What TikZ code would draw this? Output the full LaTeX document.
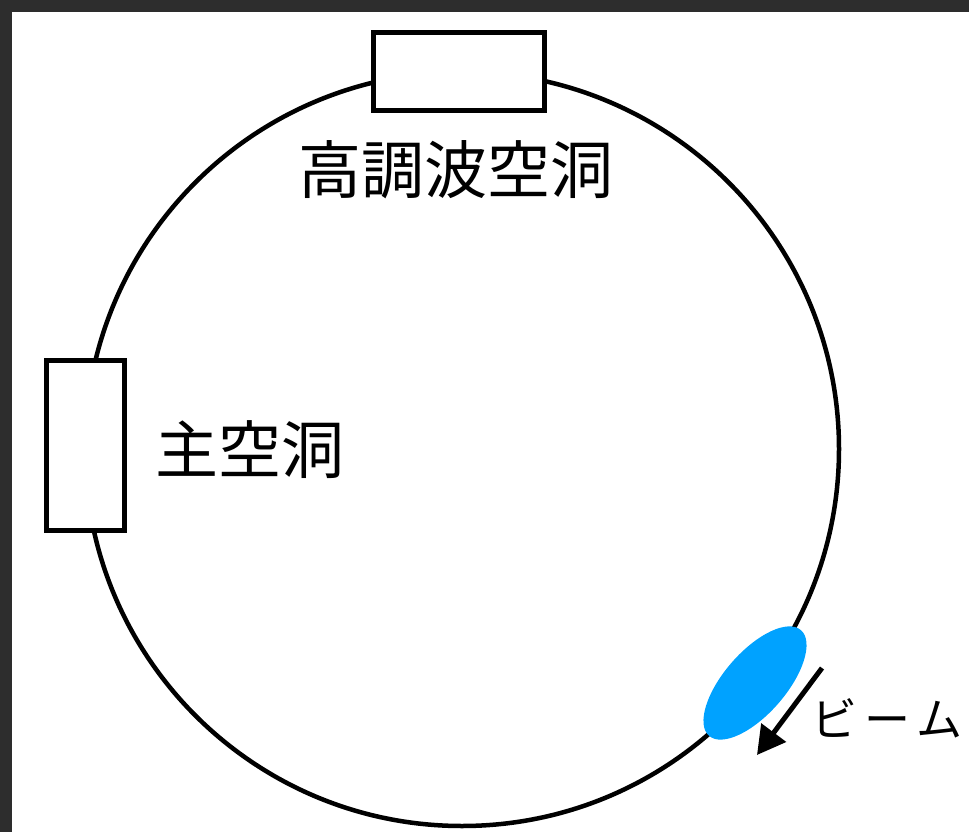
\documentclass[tikz,border=0pt]{standalone}
\usepackage{fontspec}
\newfontfamily\jp{Noto Sans CJK JP}
\usetikzlibrary{arrows.meta,shapes.geometric}
\definecolor{frame}{HTML}{2D2D2D}
\definecolor{beam}{RGB}{0,162,255}
\tikzset{
  cavity/.style={draw=black,line width=5pt,fill=white,inner sep=0pt},
  lbl/.style={font=\jp\fontsize{63pt}{66pt}\selectfont,inner sep=0pt},
}
\begin{document}
\begin{tikzpicture}[x=1pt,y=-1pt]
\useasboundingbox (0,0) rectangle (969,832);
\fill[frame] (0,0) rectangle (969,12);
\fill[frame] (0,0) rectangle (12,832);
\node[circle,draw=black,line width=4.5pt,minimum size=754pt,inner sep=0pt] (ring) at (462,449) {};
\node[cavity,minimum width=171pt,minimum height=78pt] (hc) at (458.5,72) {};
\node[cavity,minimum width=78pt,minimum height=170pt] (mc) at (85,445) {};
\node[lbl] (hct) at (456,170) {高調波空洞};
\node[lbl] (mct) at (250,450) {主空洞};
\node[ellipse,fill=beam,minimum width=140pt,minimum height=62pt,inner sep=0pt,rotate=49] (bunch) at (755,683) {};
\coordinate (a1) at (822,668);
\coordinate (a2) at (757,755);
\draw[line width=5pt,-{Triangle[length=28pt,width=30pt]}] (a1) -- (a2);
\node[font=\jp\fontsize{46pt}{50pt}\selectfont,inner sep=0pt] (bt) at (887,718) {ビ\hspace{7pt}ー\hspace{7pt}ム};
\end{tikzpicture}
\end{document}
